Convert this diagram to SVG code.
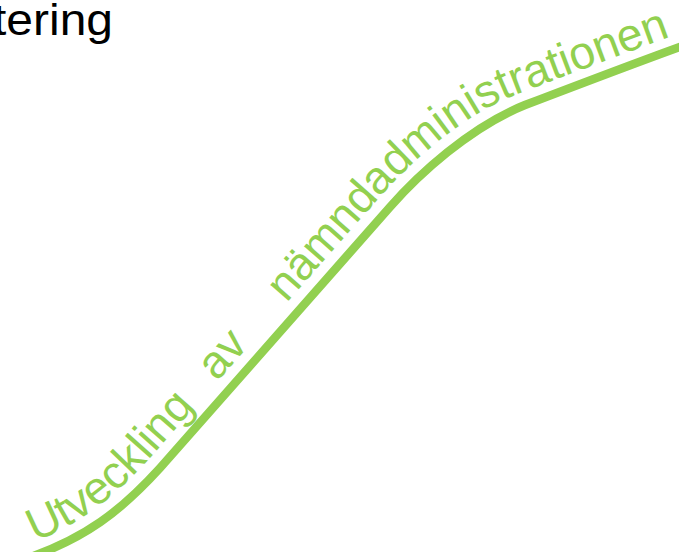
<svg xmlns="http://www.w3.org/2000/svg" xmlns:xlink="http://www.w3.org/1999/xlink" width="679" height="552" viewBox="0 0 679 552">
<style>
.lbl{font-family:"Liberation Sans",Arial,sans-serif;fill:#000;font-size:44px}
.crv{font-family:"Liberation Sans",Arial,sans-serif;fill:#92D050;font-size:46px}
.line{fill:none;stroke:#92D050;stroke-width:8.5;stroke-linecap:butt}
</style>
<defs>
<path id="tp" d="M 18,548 C 75,528 110,502 150,458 L 380,197 C 408,165 460,117 515,95 C 570,74 625,53 675,35 L 720,19"/>
</defs>
<g id="title"><text class="lbl" x="-7" y="35" textLength="120" lengthAdjust="spacingAndGlyphs">tering</text></g>
<g id="connectors">
<path class="line" d="M 28,558 C 85,538 120,512 160,468 L 390,207 C 418,175 470,127 525,105 C 580,84 635,63 685,45"/>
</g>
<g id="curve-label">
<text class="crv"><textPath xlink:href="#tp" href="#tp" startOffset="18">Utveckling</textPath></text>
<text class="crv"><textPath xlink:href="#tp" href="#tp" startOffset="263">av</textPath></text>
<text class="crv"><textPath xlink:href="#tp" href="#tp" startOffset="368">nämndadministrationen</textPath></text>
</g>
</svg>
